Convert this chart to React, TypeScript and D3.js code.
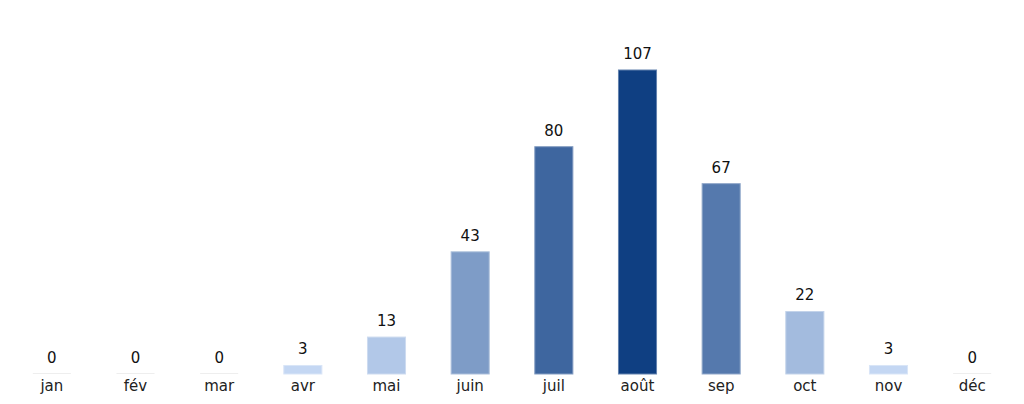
import React from "react";
import * as d3 from "d3";

const months = ["jan", "fév", "mar", "avr", "mai", "juin", "juil", "août", "sep", "oct", "nov", "déc"];
const counts = [0, 0, 0, 3, 13, 43, 80, 107, 67, 22, 3, 0];

export default function App() {
  const width = 1024;
  const height = 404;
  const baseline = 374;

  const x = d3
    .scaleBand<string>()
    .domain(months)
    .range([10, 1014])
    .paddingInner(0.545)
    .paddingOuter(0.2725);

  const y = d3
    .scaleLinear()
    .domain([0, 107])
    .range([baseline, 70]);

  const color = d3
    .scaleLinear<string>()
    .domain([0, 107])
    .range(["#c9dbf6", "#0f3f82"])
    .interpolate(d3.interpolateRgb);

  return (
    <svg
      width={width}
      height={height}
      style={{ position: "absolute", left: 0, top: 0, background: "#fff" }}
      fontFamily="DejaVu Sans, sans-serif"
    >
      {months.map((m, i) => {
        const v = counts[i];
        const x0 = x(m) ?? 0;
        const cx = x0 + x.bandwidth() / 2;
        const top = y(v);
        return (
          <g key={m}>
            {v > 0 ? (
              <rect
                x={x0}
                y={top}
                width={x.bandwidth()}
                height={baseline - top}
                fill={color(v)}
                stroke={d3.interpolateRgb(color(v), "#fff")(0.35)}
                strokeWidth={1}
              />
            ) : (
              <line
                x1={x0}
                x2={x0 + x.bandwidth()}
                y1={baseline - 0.5}
                y2={baseline - 0.5}
                stroke="#eeeeee"
                strokeWidth={1}
              />
            )}
            <text
              x={cx}
              y={top - 11}
              textAnchor="middle"
              fontSize={15}
              fill="#111"
            >
              {v}
            </text>
            <text
              x={cx}
              y={baseline + 17}
              textAnchor="middle"
              fontSize={15}
              fill="#222"
            >
              {m}
            </text>
          </g>
        );
      })}
    </svg>
  );
}
